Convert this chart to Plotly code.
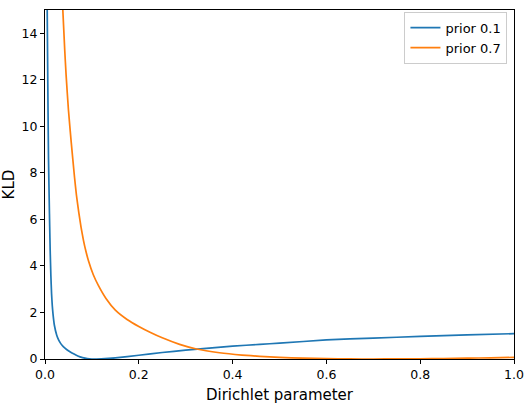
import plotly.graph_objects as go

# prior 0.1 curve
x_p01 = [0.0045, 0.0055, 0.0065, 0.0075, 0.009, 0.010, 0.011, 0.0125, 0.014, 0.0155, 0.017,
         0.020, 0.025, 0.029, 0.034, 0.039, 0.046, 0.054, 0.062, 0.070, 0.080,
         0.090, 0.100, 0.120, 0.150, 0.200, 0.250, 0.300, 0.350, 0.400, 0.458,
         0.500, 0.600, 0.700, 0.800, 0.900, 1.000]
y_p01 = [15.5, 13.0, 10.6, 8.6, 6.8, 5.7, 4.7, 3.6, 2.8, 2.3, 1.95,
         1.45, 1.02, 0.82, 0.65, 0.53, 0.41, 0.30, 0.21, 0.13, 0.06,
         0.015, 0.0, 0.01, 0.05, 0.16, 0.28, 0.38, 0.47, 0.55, 0.63,
         0.68, 0.82, 0.90, 0.97, 1.04, 1.09]

# prior 0.7 curve
x_p07 = [0.036, 0.038, 0.042, 0.045, 0.050, 0.056, 0.063, 0.067, 0.072, 0.077, 0.082,
         0.087, 0.093, 0.103, 0.114, 0.130, 0.150, 0.175, 0.200, 0.225, 0.250,
         0.287, 0.323, 0.372, 0.420, 0.458, 0.500, 0.550, 0.600, 0.650, 0.700,
         0.750, 0.800, 0.850, 0.900, 0.950, 1.000]
y_p07 = [15.6, 15.0, 13.3, 12.2, 10.7, 9.3, 7.8, 7.05, 6.3, 5.65, 5.1,
         4.65, 4.2, 3.62, 3.15, 2.6, 2.1, 1.7, 1.4, 1.14, 0.91,
         0.63, 0.43, 0.27, 0.17, 0.115, 0.07, 0.035, 0.012, 0.002, 0.0,
         0.003, 0.01, 0.02, 0.035, 0.05, 0.07]

x_ticks = [0.0, 0.2, 0.4, 0.6, 0.8, 1.0]
x_ticklabels = ["0.0", "0.2", "0.4", "0.6", "0.8", "1.0"]
y_ticks = [0, 2, 4, 6, 8, 10, 12, 14]

font = "DejaVu Sans"

fig = go.Figure()
fig.add_trace(go.Scatter(x=x_p01, y=y_p01, mode="lines", name="prior 0.1",
                         line=dict(color="#1f77b4", width=1.7, shape="spline", smoothing=0.5)))
fig.add_trace(go.Scatter(x=x_p07, y=y_p07, mode="lines", name="prior 0.7",
                         line=dict(color="#ff7f0e", width=1.7, shape="spline", smoothing=0.5)))

axis_common = dict(showgrid=False, zeroline=False, showline=True, mirror=True,
                   linecolor="black", linewidth=1, ticks="outside", ticklen=4,
                   tickwidth=1, tickcolor="black", automargin=False,
                   tickfont=dict(family=font, size=12.5, color="black"))

fig.update_layout(
    width=528, height=404,
    margin=dict(l=45, r=14, t=10, b=45),
    paper_bgcolor="white", plot_bgcolor="white",
    font=dict(family=font, color="black"),
    showlegend=True,
    legend=dict(x=0.986, y=0.995, xanchor="right", yanchor="top",
                bgcolor="rgba(255,255,255,0.8)", bordercolor="#cccccc", borderwidth=1,
                itemwidth=30, tracegroupgap=0,
                font=dict(family=font, size=13, color="black")),
    xaxis=dict(range=[0, 1], tickvals=x_ticks, ticktext=x_ticklabels,
               title=dict(text="Dirichlet parameter", font=dict(family=font, size=15)),
               **axis_common),
    yaxis=dict(range=[0, 15], tickvals=y_ticks,
               title=dict(text="KLD", font=dict(family=font, size=15)),
               **axis_common),
)

fig.write_html("out.html")
